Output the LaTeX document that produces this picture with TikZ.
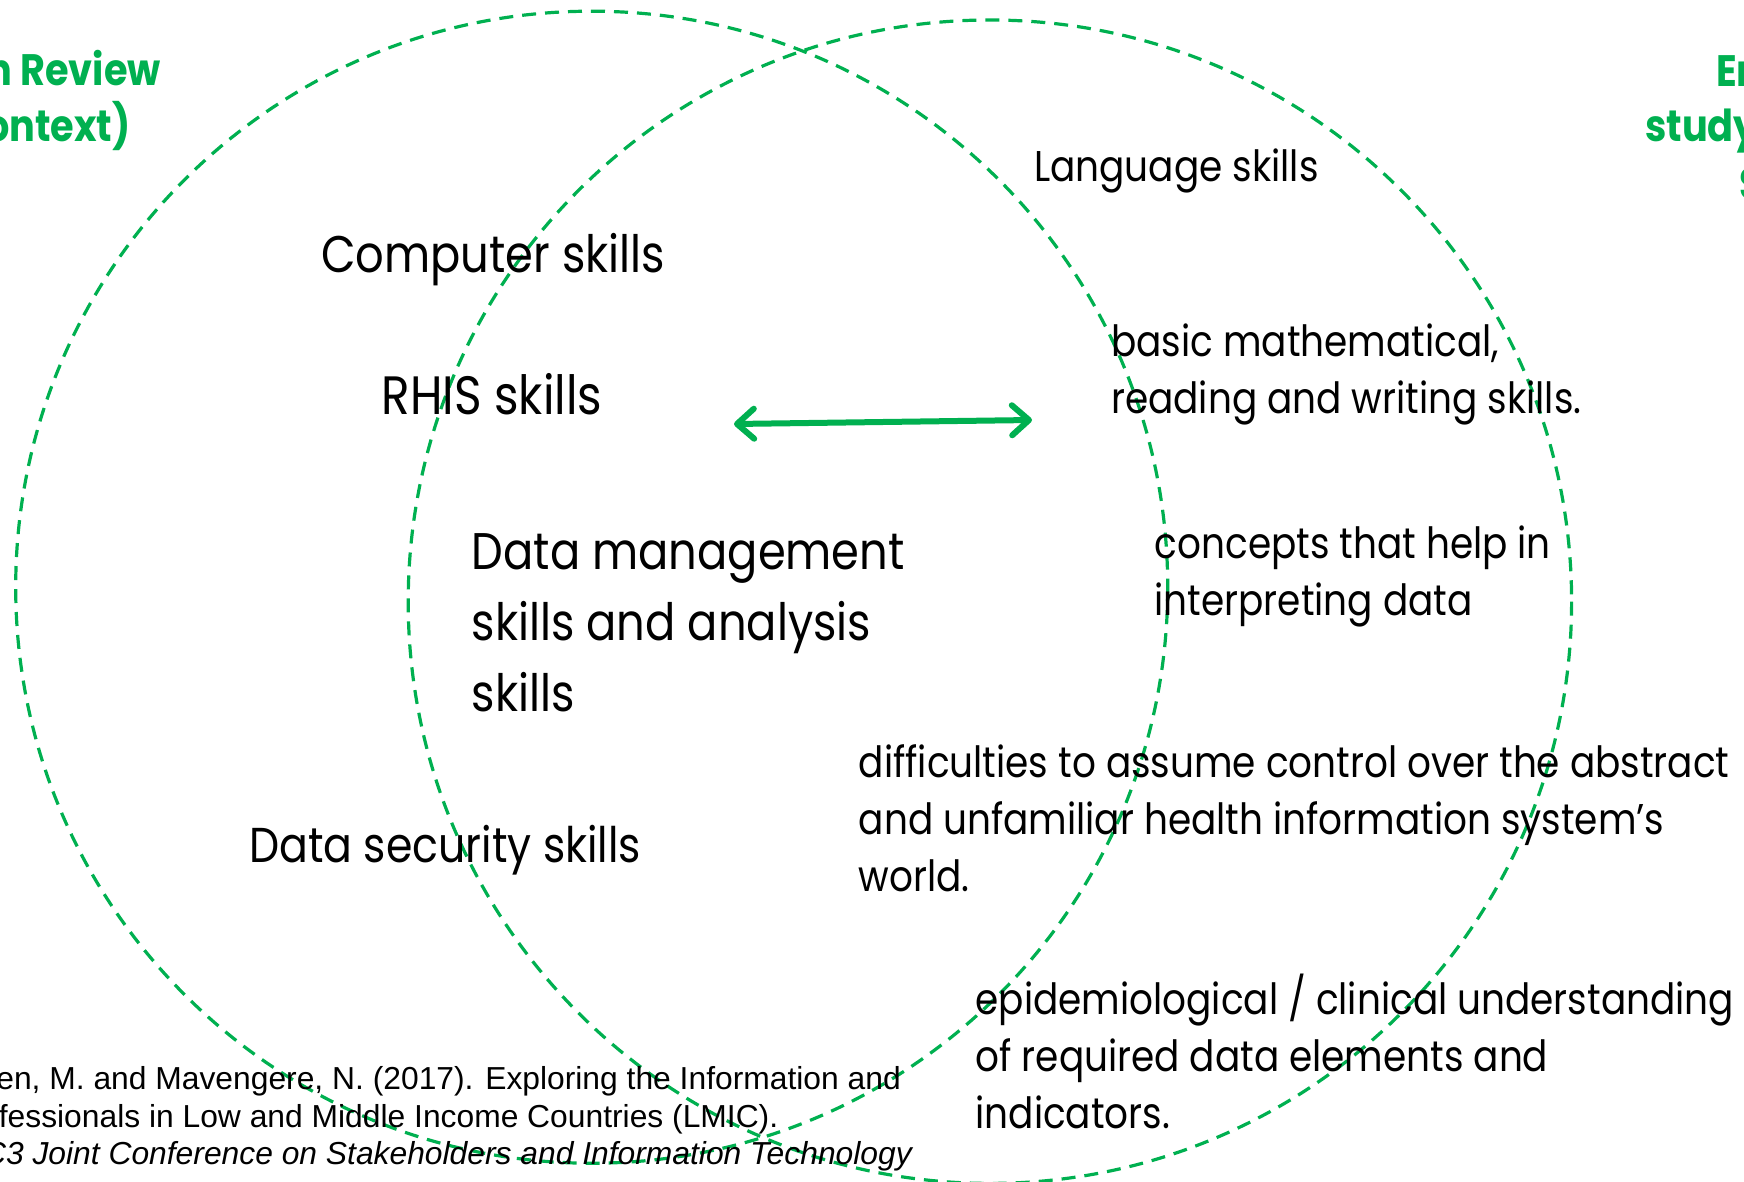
\documentclass[tikz,border=0pt]{standalone}
\usepackage{fontspec}
\setmainfont{Liberation Sans}
\newfontfamily\tw[FakeStretch=0.87]{Poppins}
\usetikzlibrary{arrows.meta}
\definecolor{vgreen}{RGB}{0,176,80}
\tikzset{
 ring/.style={draw=vgreen, line width=3.2pt, dash pattern=on 14pt off 9pt},
 bigtxt/.style={font=\tw\fontsize{51.5}{71}\selectfont, anchor=base west, inner sep=0pt, align=left},
 smalltxt/.style={font=\tw\fontsize{43}{57}\selectfont, anchor=base west, inner sep=0pt, align=left},
 ttl/.style={font=\tw\bfseries\fontsize{44}{58}\selectfont, text=vgreen, inner sep=0pt},
 refl/.style={font=\fontsize{31.8}{37.5}\selectfont, anchor=base east, inner sep=0pt},
 link/.style={draw=vgreen, line width=6pt, {Straight Barb[length=17pt,width=30pt,round]}-{Straight Barb[length=17pt,width=30pt,round]}}
}
\begin{document}
\begin{tikzpicture}[x=1pt,y=-1pt]
\useasboundingbox (0,0) rectangle (1744,1182);
\clip (0,0) rectangle (1744,1182);
\draw[ring] (591.7,587.2) circle[radius=576];
\draw[ring] (989.9,601.7) circle[radius=581.7];

% titles
\node[ttl, anchor=base east] (t1a) at (161,86) {n Review};
\node[ttl, anchor=base east] (t1b) at (131,142) {ontext)};
\node[ttl, anchor=base west] (t2a) at (1716,87) {Empirical};
\node[ttl, anchor=base west] (t2b) at (1645,142) {study};
\node[ttl, anchor=base west] (t2c) at (1739,200) {S};

% left texts (multi-line nodes are anchored at their last baseline)
\node[bigtxt] (comp) at (321,272.5) {Computer skills};
\node[bigtxt, font=\tw\fontsize{54}{71}\selectfont] (rhis) at (381.5,414) {RHIS skills};
\node[bigtxt] (dm) at (471.6,711) {Data management\\skills and analysis\\skills};
\node[bigtxt, font=\tw\fontsize{49}{60}\selectfont] (sec) at (249,862) {Data security skills};

% right texts
\node[smalltxt] (lang) at (1034,182) {Language skills};
\node[smalltxt] (math) at (1111,413) {basic mathematical,\\reading and writing skills.};
\node[smalltxt] (conc) at (1154.5,615) {concepts that help in\\interpreting data};
\node[smalltxt] (diff) at (858.6,891) {difficulties to assume control over the abstract\\and unfamiliar health information system’s\\world.};
\node[smalltxt] (epi) at (975.4,1128) {epidemiological / clinical understanding\\of required data elements and\\indicators.};

% reference
\node[refl] (r1) at (901,1089) {en, M. and Mavengere, N. (2017). Exploring the Information and};
\node[refl] (r2) at (778.5,1127) {fessionals in Low and Middle Income Countries (LMIC).};
\node[refl, font=\itshape\fontsize{31.8}{37.5}\selectfont] (r3) at (912,1164) {C3 Joint Conference on Stakeholders and Information Technology};

% arrow
\coordinate (aL) at (734,424);
\coordinate (aR) at (1032,420);
\draw[link] (aL) -- (aR);
\end{tikzpicture}
\end{document}
